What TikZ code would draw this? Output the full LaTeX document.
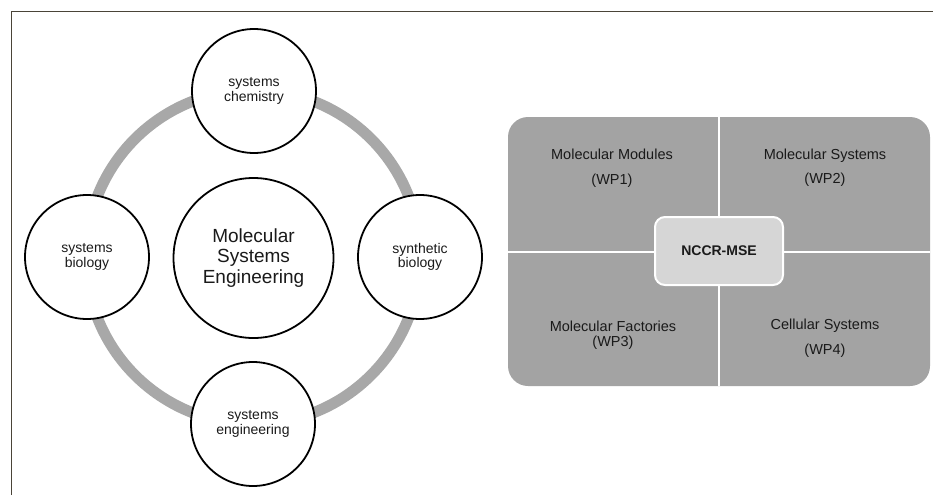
\documentclass[tikz,border=0pt]{standalone}
\usepackage{fontspec}
\setmainfont{Liberation Sans}
\definecolor{framecol}{HTML}{4A4438}
\definecolor{ringgray}{HTML}{A8A8A8}
\definecolor{panelgray}{HTML}{A3A3A3}
\definecolor{boxgray}{HTML}{D6D6D6}
\definecolor{txt}{HTML}{1A1A1A}
\begin{document}
\begin{tikzpicture}[x=1pt,y=-1pt,
  framestyle/.style={draw=framecol,line width=1pt},
  ringstyle/.style={circle,draw=ringgray,line width=11pt,minimum size=334pt,inner sep=0pt},
  circ/.style={circle,draw=black,line width=1.8pt,fill=white,minimum size=124pt,inner sep=0pt,
    align=center,text=txt,font=\fontsize{14}{14.5}\selectfont},
  bigcirc/.style={circ,minimum size=160pt,font=\fontsize{19}{20.5}\selectfont},
  panel/.style={fill=panelgray,rounded corners=20pt,minimum width=422pt,minimum height=269pt,inner sep=0pt},
  divider/.style={draw=white,line width=2pt},
  centerbox/.style={fill=boxgray,draw=white,line width=2pt,rounded corners=10pt,
    minimum width=128pt,minimum height=68pt,font=\fontsize{14}{14}\selectfont\bfseries,text=txt},
  wplabel/.style={align=center,text=txt,inner sep=0pt}
]
\useasboundingbox (0,0) rectangle (933,495);
\coordinate (fbl) at (11,495);
\coordinate (ftl) at (11,12);
\coordinate (ftr) at (933,12);
\draw[framestyle] (fbl) -- (ftl) -- (ftr);

% left diagram
\node[ringstyle] (ring) at (253,257) {};
\node[bigcirc] (mse) at (253.5,258) {Molecular\\Systems\\Engineering};
\node[circ] (chem) at (254,91) {systems\\chemistry};
\node[circ] (bio) at (87,257) {systems\\biology};
\node[circ] (synth) at (420,257) {synthetic\\biology};
\node[circ] (eng) at (253,424) {systems\\engineering};

% right panel
\node[panel] (panel) at (719,251.5) {};
\draw[divider] (panel.north) -- (panel.south);
\draw[divider] (panel.west) -- (panel.east);
\node[centerbox] (nccr) at (719,251) {NCCR-MSE};
\node[wplabel,font=\fontsize{14.5}{25}\selectfont] (wp1) at (612,168) {Molecular Modules\\(WP1)};
\node[wplabel,font=\fontsize{14.5}{24}\selectfont] (wp2) at (825,168) {Molecular Systems\\(WP2)};
\node[wplabel,font=\fontsize{14.5}{14.5}\selectfont] (wp3) at (613,335) {Molecular Factories\\(WP3)};
\node[wplabel,font=\fontsize{14.5}{25}\selectfont] (wp4) at (825,338) {Cellular Systems\\(WP4)};
\end{tikzpicture}
\end{document}
